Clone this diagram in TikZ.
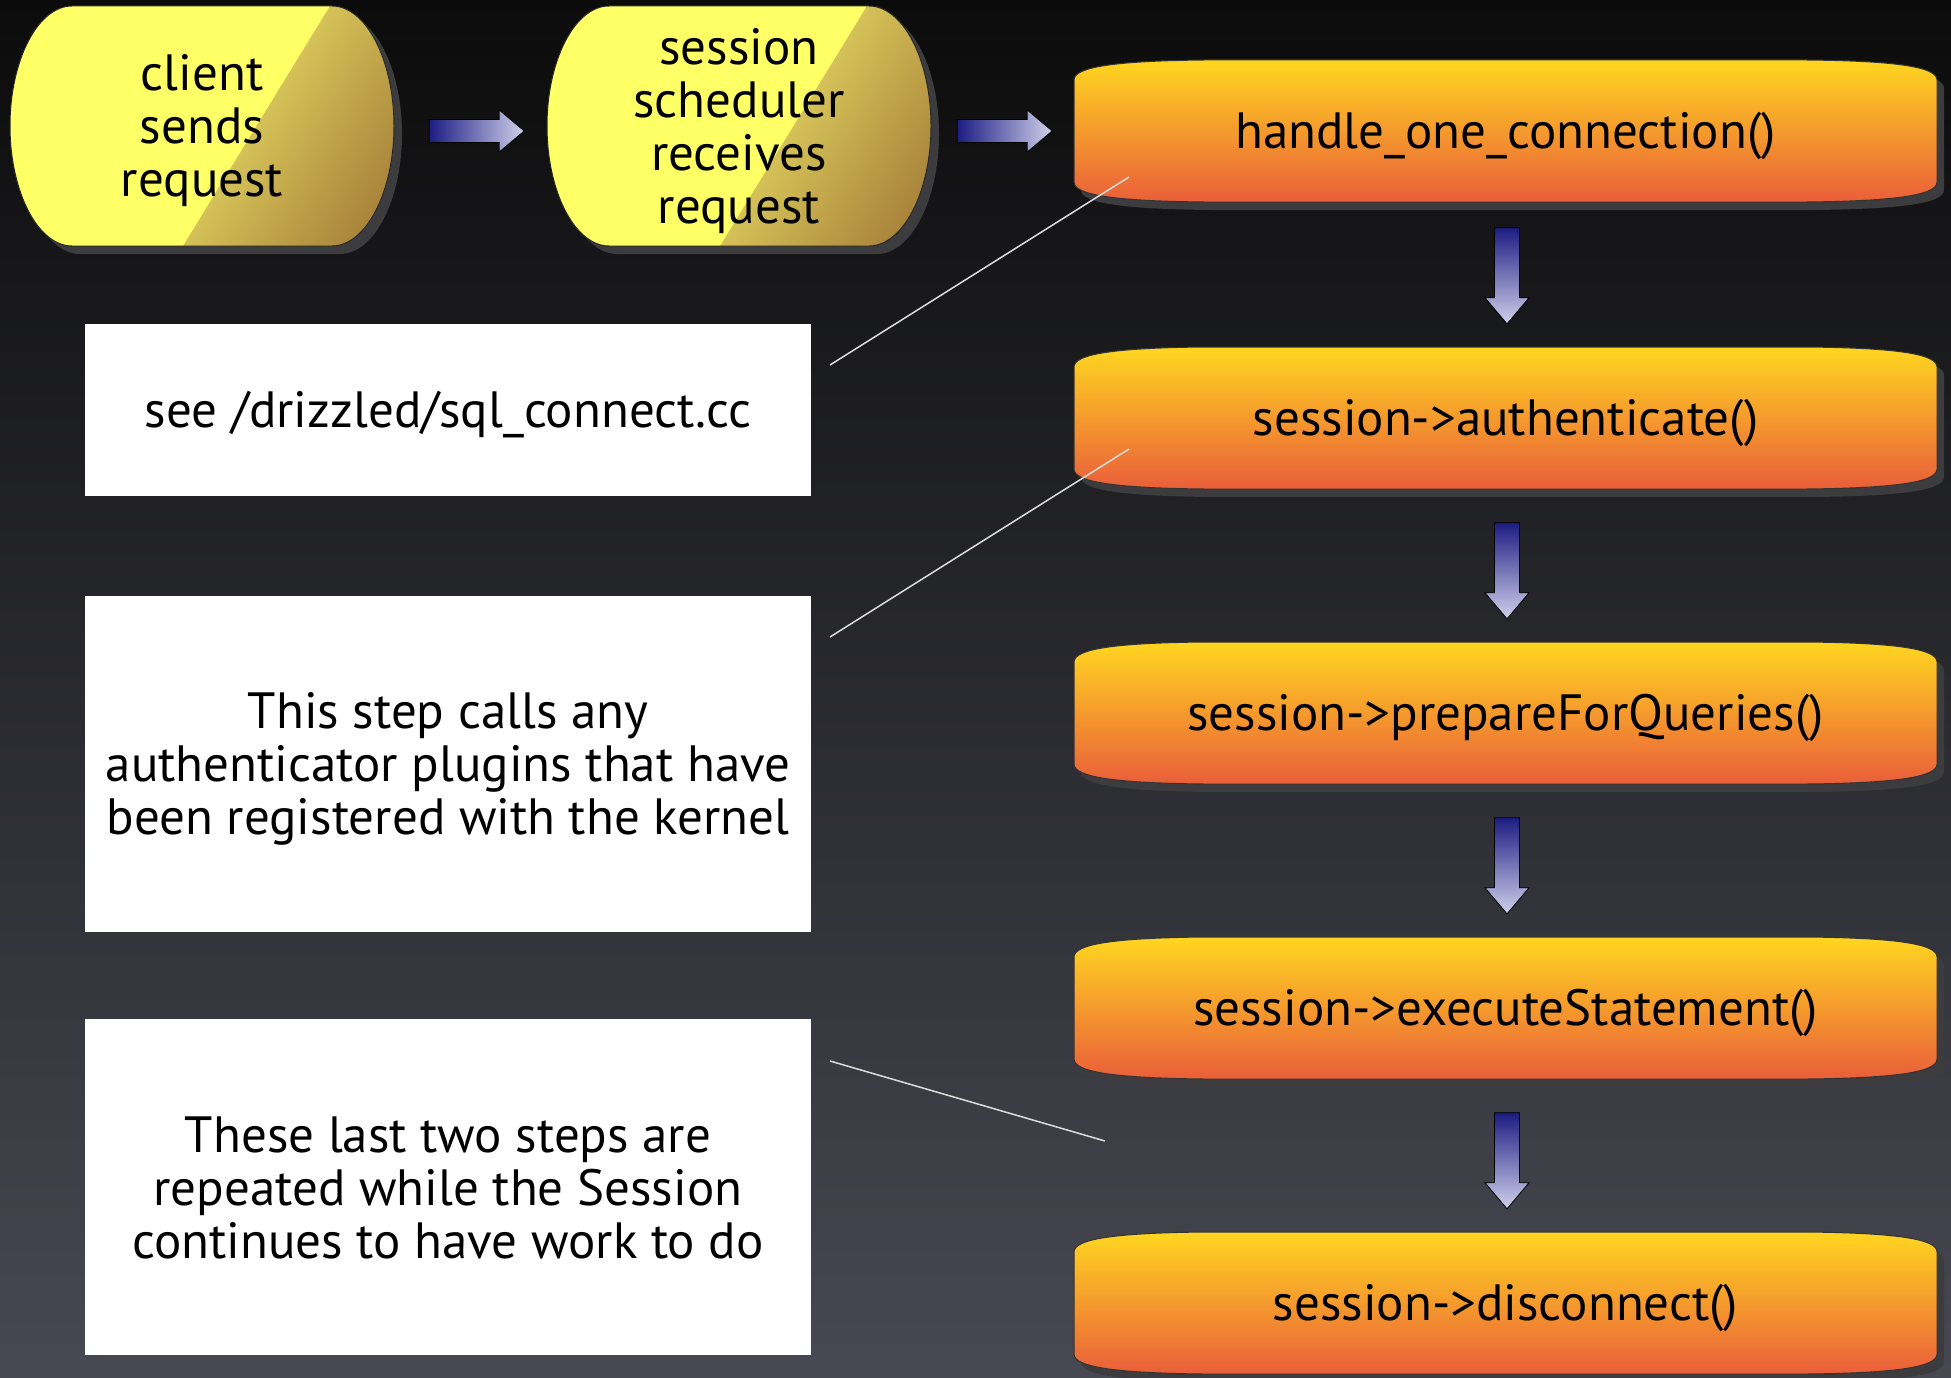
\documentclass[tikz,border=0pt]{standalone}
\usepackage{fontspec}
\setmainfont{PT Sans}
\usetikzlibrary{calc}
\definecolor{bgtop}{HTML}{0B0B0B}
\definecolor{bgbot}{HTML}{474852}
\definecolor{ylw}{HTML}{FFFF66}
\definecolor{ylwlight}{HTML}{EDE468}
\definecolor{ylwdark}{HTML}{A8823A}
\definecolor{orgtop}{HTML}{FFD620}
\definecolor{orgmid}{HTML}{F49A30}
\definecolor{orgbot}{HTML}{EA5E3A}
\definecolor{shad}{HTML}{3C3C3E}
\definecolor{arrdark}{HTML}{1C1C82}
\definecolor{arrlight}{HTML}{D0D0EC}
\definecolor{leader}{HTML}{DDDDDD}
\newcommand\yshape{(62,0) -- (322,0) .. controls (356,0) and (384,54) .. (384,120) .. controls (384,186) and (356,240) .. (322,240) -- (62,240) .. controls (28,240) and (0,186) .. (0,120) .. controls (0,54) and (28,0) .. (62,0) -- cycle}
\newcommand\oshape{(0,20) .. controls (0,7) and (40,1) .. (130,0) -- (733,0) .. controls (823,1) and (863,7) .. (863,20) -- (863,122) .. controls (863,135) and (823,141) .. (733,142) -- (130,142) .. controls (40,141) and (0,135) .. (0,122) -- cycle}
\newcommand\rarrow{(0,-11.5) -- (70,-11.5) -- (70,-21) -- (95,0) -- (70,21) -- (70,11.5) -- (0,11.5) -- cycle}
\newcommand\darrow{(-12.5,0) -- (12.5,0) -- (12.5,70) -- (22,70) -- (0,96) -- (-22,70) -- (-12.5,70) -- cycle}
\newcommand\ybox[1]{%
  \begin{scope}[shift={#1}]
    \begin{scope}[shift={(8,8)}]\fill[shad] \yshape;\end{scope}
    \fill[ylw] \yshape;
    \begin{scope}
      \clip \yshape;
      \shade[top color=ylwlight, bottom color=ylwdark, shading angle=58] (320,0) -- (400,0) -- (400,240) -- (173,240) -- cycle;
    \end{scope}
    \draw[line width=1pt, black!85] \yshape;
  \end{scope}}
\newcommand\obox[1]{%
  \begin{scope}[shift={#1}]
    \begin{scope}[shift={(7,8)}]\fill[shad] \oshape;\end{scope}
    \shade[top color=orgtop, middle color=orgmid, bottom color=orgbot] \oshape;
    \draw[line width=1pt, black!80] \oshape;
  \end{scope}}
\begin{document}
\begin{tikzpicture}[x=1pt,y=-1pt,
  txt/.style={font=\fontsize{51}{53}\selectfont, align=center, text=black, inner sep=0pt},
  onode/.style={txt, minimum width=863pt, minimum height=142pt},
  ynode/.style={txt, minimum width=384pt, minimum height=240pt},
  wnode/.style={txt, minimum width=726pt},
  leaderline/.style={draw=leader, line width=1.5pt},
  blockarrow/.style={draw=black, line width=0.8pt}]
\useasboundingbox (0,0) rectangle (1951,1378);
\fill[top color=bgtop, bottom color=bgbot] (0,0) rectangle (1951,1378);

% yellow shapes
\ybox{(10,6)}
\ybox{(547,6)}
\node[ynode] (c1) at (202,131) {client\\sends\\request};
\node[ynode] (c2) at (739,131) {session\\scheduler\\receives\\request};

% orange boxes
\obox{(1074,60)}
\obox{(1074,347)}
\obox{(1074,642)}
\obox{(1074,937)}
\obox{(1074,1232)}
\node[onode] (o1) at (1505.5,136) {handle\_one\_connection()};
\node[onode] (o2) at (1505.5,423) {session->authenticate()};
\node[onode] (o3) at (1505.5,718) {session->prepareForQueries()};
\node[onode] (o4) at (1505.5,1013) {session->executeStatement()};
\node[onode] (o5) at (1505.5,1308) {session->disconnect()};

% white note boxes
\fill[white] (85,324) rectangle (811,496);
\fill[white] (85,596) rectangle (811,932);
\fill[white] (85,1019) rectangle (811,1355);
\node[wnode, minimum height=172pt] (w1) at (448,415) {see /drizzled/sql\_connect.cc};
\node[wnode, minimum height=336pt] (w2) at (448,769) {This step calls any\\authenticator plugins that have\\been registered with the kernel};
\node[wnode, minimum height=336pt] (w3) at (448,1188) {These last two steps are\\repeated while the Session\\continues to have work to do};

% block arrows
\coordinate (ra1) at ($(c1.east)+(35,0)$);
\coordinate (ra2) at ($(c2.east)+(26,0)$);
\begin{scope}[shift={(ra1)}]\shade[left color=arrdark, right color=arrlight] \rarrow; \draw[blockarrow] \rarrow;\end{scope}
\begin{scope}[shift={(ra2)}]\shade[left color=arrdark, right color=arrlight] \rarrow; \draw[blockarrow] \rarrow;\end{scope}
\foreach \a/\b in {o1/o2,o2/o3,o3/o4,o4/o5}{
  \coordinate (da) at ($(\b.north)+(1.5,-124)$);
  \begin{scope}[shift={(da)}]\shade[top color=arrdark, bottom color=arrlight] \darrow; \draw[blockarrow] \darrow;\end{scope}
}

% leader lines
\coordinate (l1a) at (830,365);
\coordinate (l1b) at (1129,177);
\coordinate (l2a) at (830,637);
\coordinate (l2b) at (1129,449);
\coordinate (l3a) at (830,1061);
\coordinate (l3b) at (1105,1141);
\draw[leaderline] (l1a) -- (l1b);
\draw[leaderline] (l2a) -- (l2b);
\draw[leaderline] (l3a) -- (l3b);
\end{tikzpicture}
\end{document}
